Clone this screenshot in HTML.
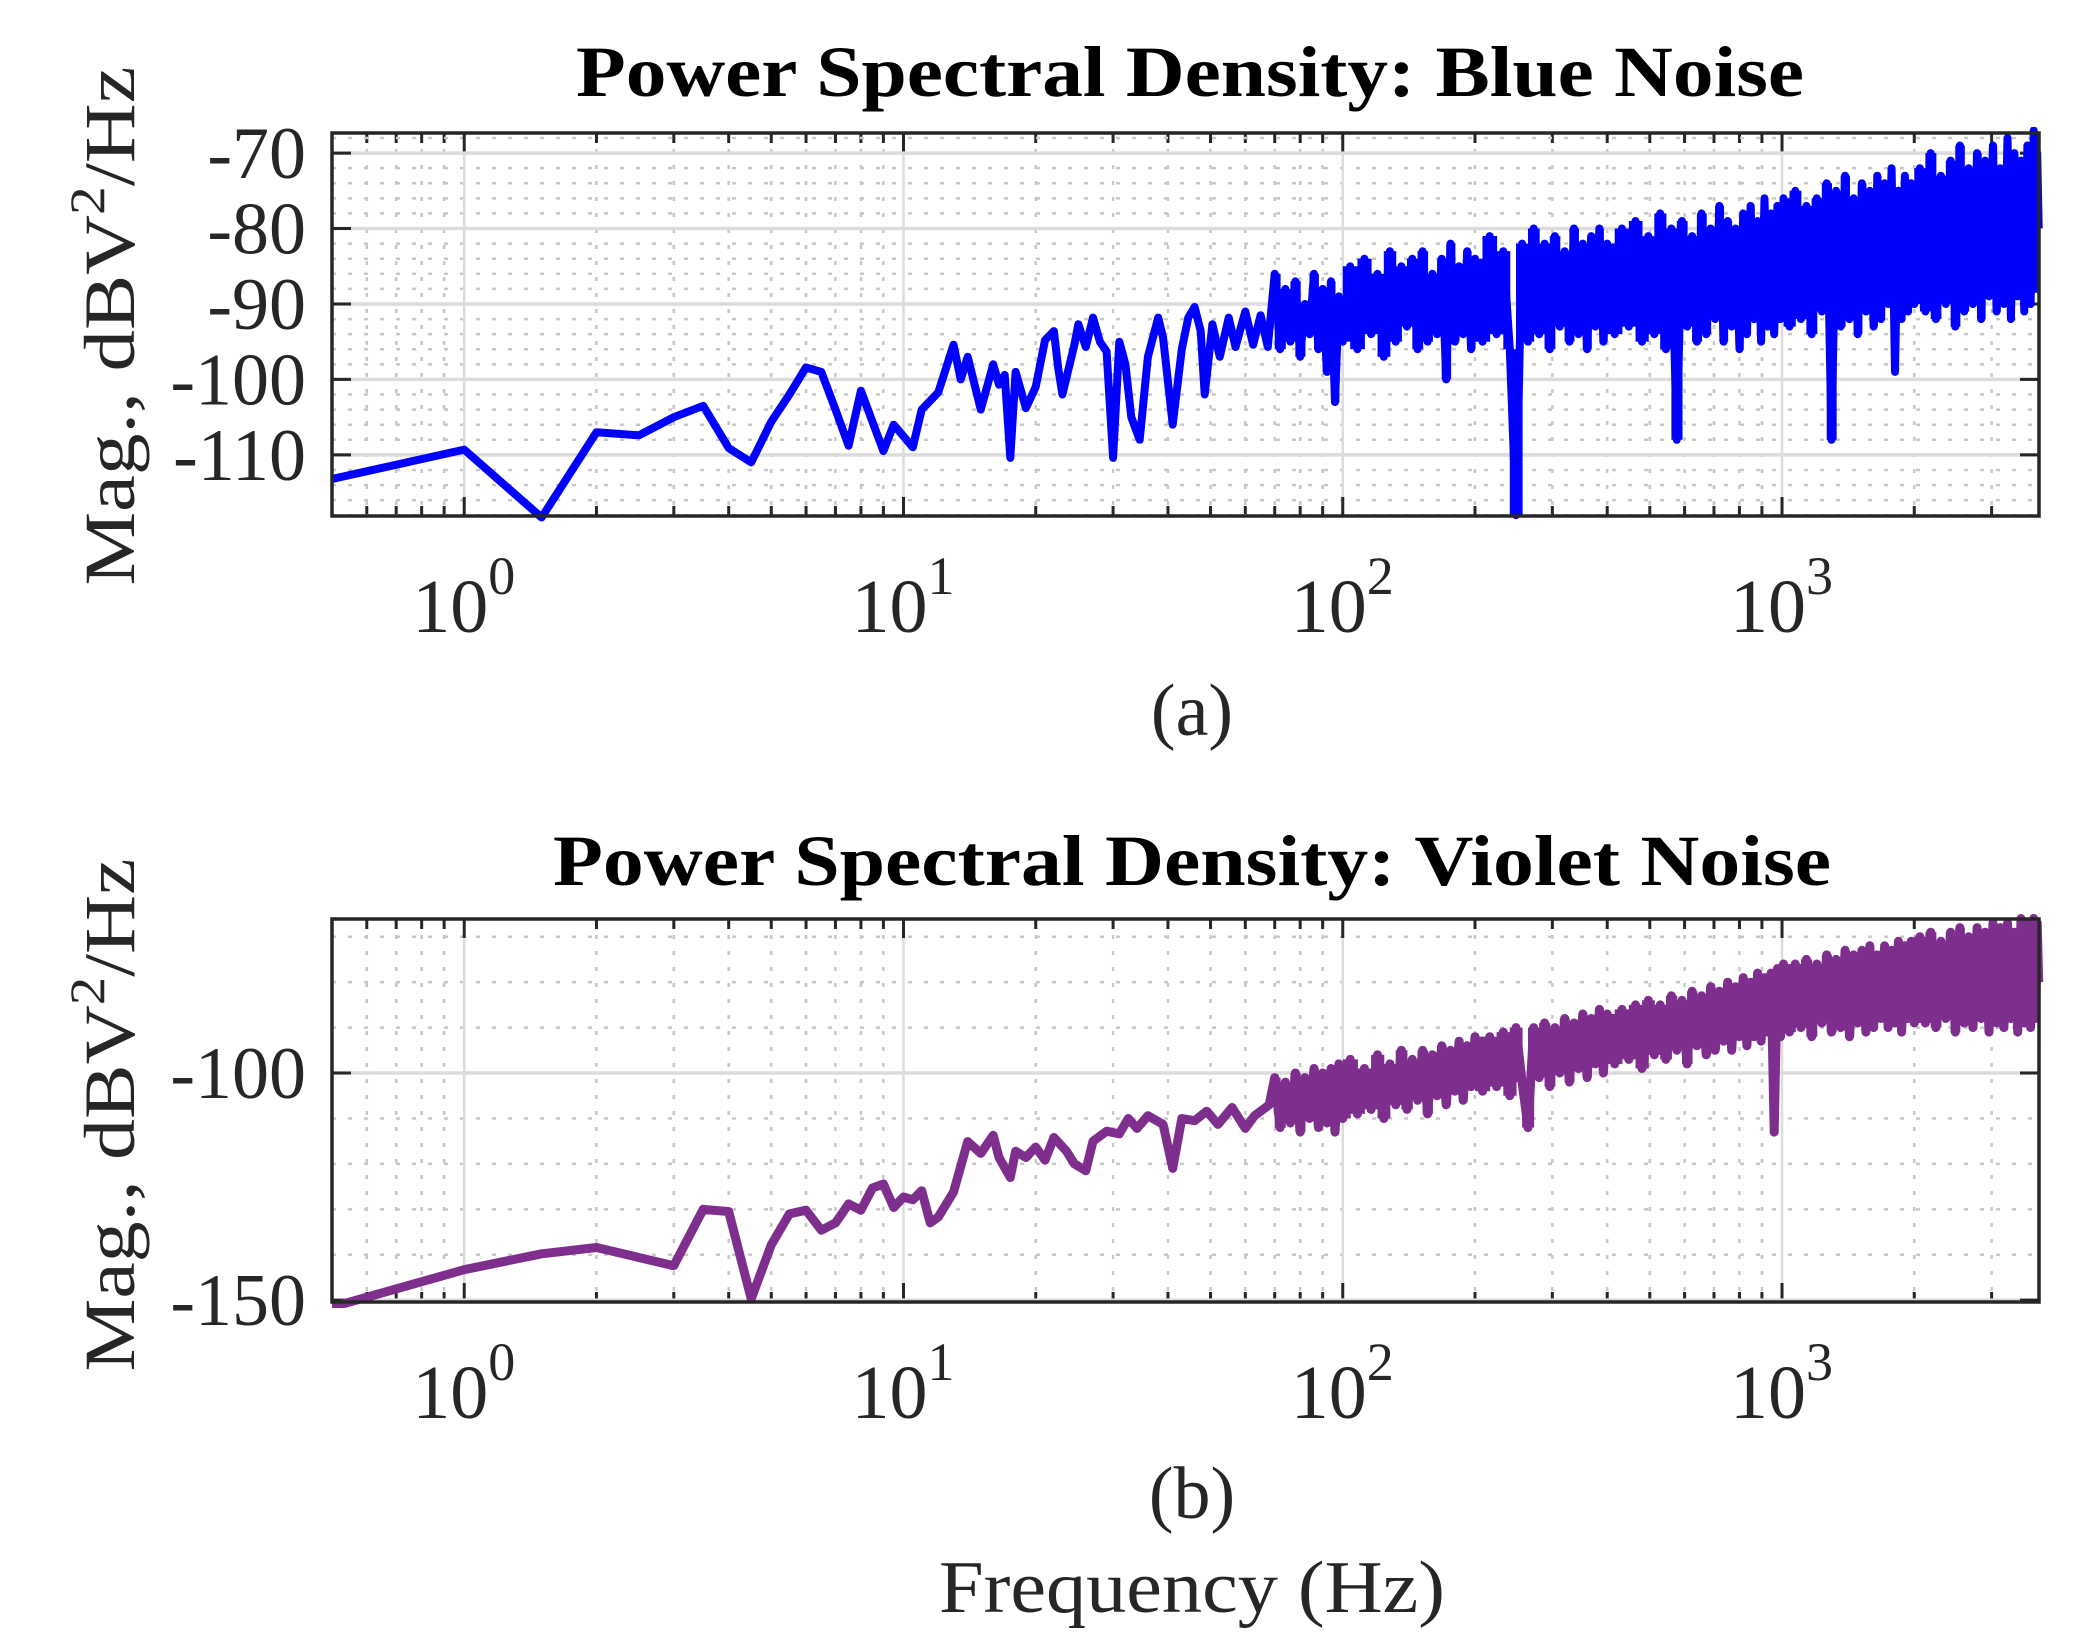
<!DOCTYPE html>
<html><head><meta charset="utf-8"><style>
html,body{margin:0;padding:0;background:#fff;}
svg{display:block;font-family:"Liberation Serif",serif;}
</style></head>
<body>
<svg id="fig" width="2077" height="1648" viewBox="0 0 2077 1648" xmlns="http://www.w3.org/2000/svg">
<rect x="0" y="0" width="2077" height="1648" fill="#fff"/>
<text x="1190" y="96" text-anchor="middle" font-size="72" font-weight="bold" textLength="1228" lengthAdjust="spacingAndGlyphs" fill="#000">Power Spectral Density: Blue Noise</text>
<text x="1192" y="885" text-anchor="middle" font-size="72" font-weight="bold" textLength="1278" lengthAdjust="spacingAndGlyphs" fill="#000">Power Spectral Density: Violet Noise</text>
<text transform="translate(134,326) rotate(-90)" text-anchor="middle" font-size="72" textLength="519" lengthAdjust="spacingAndGlyphs" fill="#262626">Mag., dBV<tspan font-size="50" dy="-30">2</tspan><tspan dy="30">/Hz</tspan></text>
<text transform="translate(134,1115) rotate(-90)" text-anchor="middle" font-size="72" textLength="513" lengthAdjust="spacingAndGlyphs" fill="#262626">Mag., dBV<tspan font-size="50" dy="-30">2</tspan><tspan dy="30">/Hz</tspan></text>
<text x="1192" y="735" text-anchor="middle" font-size="74" fill="#262626">(a)</text>
<text x="1192" y="1518" text-anchor="middle" font-size="74" fill="#262626">(b)</text>
<text x="1192" y="1612" text-anchor="middle" font-size="74" textLength="506" lengthAdjust="spacingAndGlyphs" fill="#262626">Frequency (Hz)</text>
<g id="panelA"></g>
<g id="panelB"></g>
</svg>
<script>
const blueLowF = [0.5,1,1.5,2,2.5,3,3.5,4,4.5,5,5.5,6,6.5,7,7.5,8,9,9.5,10.5,11,12,13,13.5,14,15,16,16.5,17,17.5,18,19,20,21,22,22.5,23,24.5,25,26,27,28,29,30,31,32,33,34.5,36,38,39,41,43,44.5,46,47.5,48.5,50.5,52.5,55,57,60,62.5,65,67.5];
const blueLowM = [-113.2,-109.3,-118.3,-107,-107.4,-105,-103.5,-109.1,-111,-105.6,-102,-98.4,-99,-104,-108.8,-101.5,-109.5,-106,-109,-104,-101.7,-95.4,-100,-97,-104,-98,-100.7,-99.4,-110.4,-99,-103.8,-101,-94.8,-93.6,-98.5,-102,-95.4,-92.7,-95.7,-91.8,-95,-96.3,-110.4,-95,-98,-105,-108,-97,-91.8,-94.5,-106,-96,-91.8,-90.4,-93.6,-102,-92.7,-97,-91.8,-95.7,-91,-95.4,-91.5,-95.7];
const highF = [70,72,74,76,78,80,82,84,86,88,90,92,94,96,98,100,
104,108,112,116,120,124,128,132,136,140,144,148,152,156,160,164,168,172,176,180,184,188,192,196,200,
208,216,224,232,240,248,256,264,272,280,288,296,304,312,320,328,336,344,352,360,368,376,384,392,400,
416,432,448,464,480,496,512,528,544,560,576,592,608,624,640,656,672,688,704,720,736,752,768,784,800,816,832,848,864,880,896,912,928,944,960,976,992,1008,
1040,1072,1104,1136,1168,1200,1232,1264,1296,1328,1360,1392,1424,1456,1488,1520,1552,1584,1616,1648,1680,1712,1744,1776,1808,1840,1872,1904,1936,1968,2000,
2060,2120,2180,2240,2300,2360,2420,2480,2540,2600,2660,2720,2780,2840,2900,2960,3020,3080,3140,3200,3260,3320,3380,3440,3500,3560,3620,3680,3740,3780,3810,3840];
const blueHighM = [-86,-96,-88,-95,-87,-97,-90,-94,-86,-96,-88,-99,-87,-103,-89,-95,
-85,-96,-84,-94,-86,-97,-83,-95,-85,-93,-84,-96,-83,-95,-86,-94,-84,-100,-82,-95,-85,-94,-83,-96,-84,
-95,-81,-94,-83,-96,-118,-82,-95,-80,-94,-82,-96,-81,-93,-83,-95,-80,-94,-82,-96,-81,-93,-80,-95,-82,
-94,-80,-93,-79,-95,-81,-94,-78,-96,-80,-108,-79,-93,-81,-95,-78,-94,-80,-92,-77,-95,-79,-93,-80,-96,-78,-94,-77,-92,-79,-95,-76,-93,-78,-94,-77,-92,-76,
-93,-75,-92,-77,-94,-76,-91,-74,-108,-75,-93,-73,-92,-76,-94,-74,-91,-75,-93,-73,-92,-74,-90,-72,-99,-75,-92,-73,-91,-74,-90,
-72,-91,-70,-92,-73,-90,-71,-93,-69,-91,-72,-90,-70,-92,-71,-89,-69,-91,-72,-90,-68,-92,-70,-89,-71,-91,-69,-90,-67,-88,-70,-80];
const violetLowF = [0.5,1,1.5,2,3,3.5,4,4.5,5,5.5,6,6.5,7,7.5,8,8.5,9,9.5,10,10.5,11,11.5,12,13,14,15,16,16.5,17.5,18,19,20,21,22,23.5,24.5,26,27,29,31,32.5,34,36,39,41,43,46,49,52,56,60,63,68];
const violetLowM = [-151.5,-143.3,-139.8,-138.4,-142.4,-130,-130.5,-149.7,-137.8,-131,-130.2,-134.6,-133,-128.8,-130.2,-125.3,-124.4,-129.6,-127.3,-127.9,-125.9,-133,-131.7,-126.2,-115.1,-117.7,-113.7,-118.6,-123,-117.2,-118.6,-116.3,-119.2,-114.2,-117.2,-120,-121.5,-115,-112.8,-113.4,-110,-112.2,-109.4,-111.3,-121,-110,-110.5,-108.4,-111.3,-107.6,-112.2,-109.4,-107];
const violetHighM = [-101,-112,-102,-111,-100,-113,-101,-110,-99,-112,-100,-111,-99,-113,-98,-110,
-97,-109,-99,-108,-96,-110,-98,-107,-95,-108,-97,-106,-95,-109,-96,-105,-94,-107,-95,-104,-93,-106,-94,-103,-92,
-104,-92,-103,-91,-105,-90,-102,-112,-90,-101,-89,-103,-90,-100,-88,-102,-89,-99,-87,-101,-88,-98,-86,-100,-87,
-98,-86,-97,-85,-99,-84,-96,-85,-97,-83,-95,-84,-98,-82,-94,-83,-96,-81,-95,-82,-93,-80,-95,-81,-92,-79,-94,-80,-92,-78,-93,-79,-91,-78,-113,-77,-92,-76,
-91,-76,-90,-75,-92,-76,-89,-74,-91,-75,-90,-73,-92,-74,-89,-73,-91,-72,-90,-74,-88,-72,-90,-73,-89,-71,-91,-72,-88,-71,-89,
-70,-89,-69,-90,-71,-88,-69,-91,-68,-89,-70,-90,-68,-88,-69,-91,-67,-89,-68,-90,-67,-88,-69,-91,-66,-89,-67,-90,-66,-88,-67,-80];
const xDecades = [0,1,2,3];
const blueYTicks = [-110,-100,-90,-80,-70];
const violetYTicks = [-150,-100];

const NS = "http://www.w3.org/2000/svg";
function mk(tag, attrs, parent){
  const el = document.createElementNS(NS, tag);
  for (const k in attrs) el.setAttribute(k, attrs[k]);
  parent.appendChild(el);
  return el;
}
const X0 = 332, X1 = 2039, XMIN = 0.5, XMAX = 3846;
function xs(f){ return X0 + (Math.log10(f) - Math.log10(XMIN)) / (Math.log10(XMAX) - Math.log10(XMIN)) * (X1 - X0); }

function panel(g, id, top, bot, ymin, ymax, yticks, yminor, F, M, denseStart, color, lw, seriesName){
  const ys = v => bot - (v - ymin) / (ymax - ymin) * (bot - top);
  for (let d = -1; d <= 3; d++) {
    for (let m = 2; m <= 9; m++) {
      const f = m * Math.pow(10, d);
      if (f <= XMIN || f >= XMAX) continue;
      const x = xs(f);
      const ln = mk('line', {x1:x, x2:x, y1:top, y2:bot, stroke:'#c8c8c8', 'stroke-width':2.5, 'stroke-dasharray':'4 12'}, g);
      
      
      for (const [ya, yb] of [[bot, bot-10],[top, top+10]]) {
        const t = mk('line', {x1:x, x2:x, y1:ya, y2:yb, stroke:'#262626', 'stroke-width':3}, g);
        
        
      }
    }
  }
  for (let v = Math.ceil(ymin / yminor) * yminor; v <= ymax; v += yminor) {
    if (yticks.indexOf(v) >= 0) continue;
    const y = ys(v);
    const ln = mk('line', {x1:X0, x2:X1, y1:y, y2:y, stroke:'#c8c8c8', 'stroke-width':2.5, 'stroke-dasharray':'4 12'}, g);
    
    
  }
  xDecades.forEach(d => {
    const x = xs(Math.pow(10, d));
    const ln = mk('line', {x1:x, x2:x, y1:top, y2:bot, stroke:'#dcdcdc', 'stroke-width':2.5}, g);
    
    
    for (const [ya, yb] of [[bot, bot-19],[top, top+19]]) {
      const t = mk('line', {x1:x, x2:x, y1:ya, y2:yb, stroke:'#262626', 'stroke-width':3}, g);
      
      
    }
    const lbl = mk('text', {x:x - 52, y:bot + 116, 'font-size':76, fill:'#262626'}, g);
    
    
    lbl.textContent = '10';
    const sup = mk('tspan', {'font-size':54, dy:-38}, lbl);
    sup.textContent = String(d);
  });
  yticks.forEach(v => {
    const y = ys(v);
    const ln = mk('line', {x1:X0, x2:X1, y1:y, y2:y, stroke:'#dcdcdc', 'stroke-width':3.5}, g);
    
    
    for (const [xa, xb] of [[X0, X0+19],[X1, X1-19]]) {
      const t = mk('line', {x1:xa, x2:xb, y1:y, y2:y, stroke:'#262626', 'stroke-width':3}, g);
      
      
    }
    const lbl = mk('text', {x:306, y:y + 25, 'text-anchor':'end', 'font-size':74, fill:'#262626'}, g);
    
    
    lbl.textContent = String(v);
  });
  const cp = mk('clipPath', {id:'clip' + id}, g);
  mk('rect', {x:X0, y:top - 6, width:X1 - X0 + 6, height:bot - top + 12}, cp);
  const sg = mk('g', {'clip-path':'url(#clip' + id + ')'}, g);
  
  
  const n = Math.min(F.length, M.length);
  for (let i = 0; i < n - 1; i++) {
    if (F[i] < denseStart) continue;
    const xa = xs(F[i]), xb = xs(F[i + 1]);
    const ya = ys(Math.max(M[i], M[i + 1])), yb = ys(Math.min(M[i], M[i + 1]));
    const r = mk('rect', {x:xa, y:ya, width:xb - xa + 0.5, height:yb - ya, fill:color}, sg);
    
    
  }
  let d = '';
  for (let i = 0; i < n; i++) {
    d += (i ? 'L' : 'M') + xs(F[i]).toFixed(1) + ',' + ys(M[i]).toFixed(1);
  }
  const p = mk('path', {d:d, fill:'none', stroke:color, 'stroke-width':lw, 'stroke-linejoin':'round'}, sg);
  
  
  const box = mk('rect', {x:X0, y:top, width:X1 - X0, height:bot - top, fill:'none', stroke:'#262626', 'stroke-width':3.5}, g);
  
  
}
panel(document.getElementById('panelA'), 'A', 133, 516, -118.1, -67.34, blueYTicks, 2,
  blueLowF.concat(highF), blueLowM.concat(blueHighM), 70, '#0000ff', 8, 'blue-noise-line');
panel(document.getElementById('panelB'), 'B', 919, 1302, -150.4, -66.1, violetYTicks, 10,
  violetLowF.concat(highF), violetLowM.concat(violetHighM), 70, '#7e2f8e', 9, 'violet-noise-line');
</script>
</body></html>
